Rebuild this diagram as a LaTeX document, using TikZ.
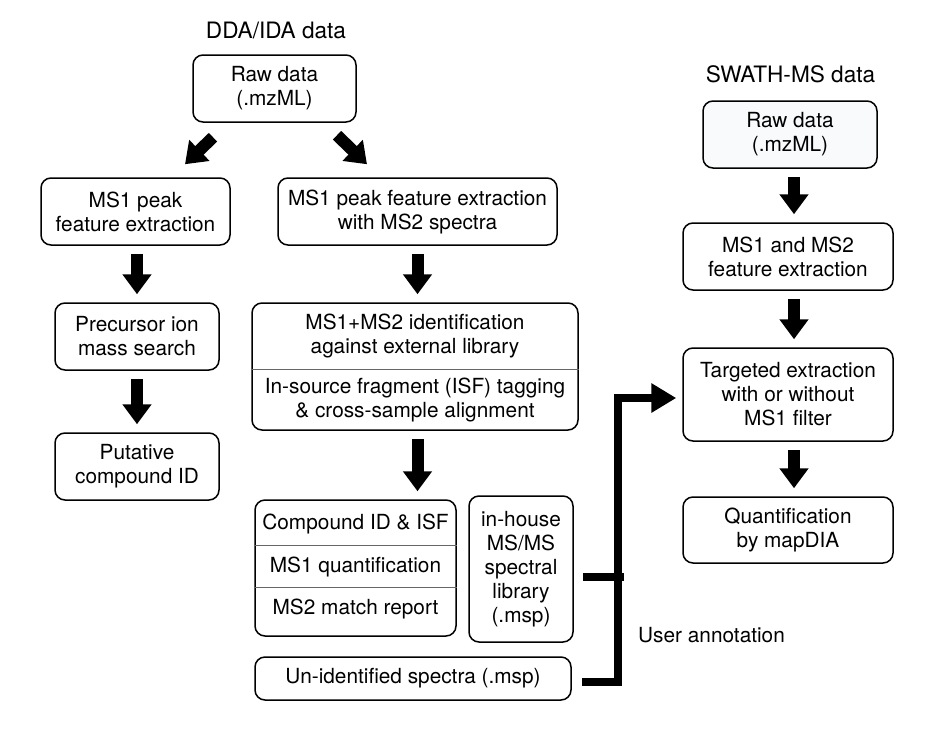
\documentclass[tikz,border=0pt]{standalone}
\usepackage{fontspec}
\setmainfont{TeX Gyre Heros}
\usetikzlibrary{arrows.meta,calc}
\definecolor{palefill}{RGB}{248,250,252}
\begin{document}
\begin{tikzpicture}[x=1pt,y=-1pt,
  txt/.style={font=\fontsize{20.8}{24}\selectfont, align=center, inner sep=0pt},
  title/.style={font=\fontsize{22.6}{26}\selectfont, inner sep=0pt},
  box/.style={txt, draw, line width=1.5pt, rounded corners=10pt},
  divider/.style={draw=black!60, line width=1pt},
  fat/.style={line width=12pt, -{Triangle[length=20pt,width=28pt]}, shorten <=8pt, shorten >=8pt},
  thickline/.style={line width=8pt, line join=miter},
  ]
\useasboundingbox[fill=white] (0,0) rectangle (928,736);

% titles
\node[title] (tdda) at (276,30) {DDA/IDA data};
\node[title] (tswath) at (790.5,74) {SWATH-MS data};

% DDA/IDA column
\node[box, minimum width=163pt, minimum height=67pt] (raw1) at (274.5,88.5) {Raw data\\(.mzML)};
\node[box, minimum width=189pt, minimum height=67pt] (ms1L) at (135.5,211.5) {MS1 peak\\feature extraction};
\node[box, minimum width=279pt, minimum height=67pt] (ms1R) at (417.5,211.5) {MS1 peak feature extraction\\with MS2 spectra};
\node[box, minimum width=164pt, minimum height=67pt] (prec) at (137,336.5) {Precursor ion\\mass search};
\node[box, minimum width=164pt, minimum height=67pt] (put) at (137,466.5) {Putative\\compound ID};

% big two-part box
\node[box, minimum width=326pt, minimum height=127pt] (big) at (415,366.5) {};
\draw[divider] ($(big.north west)!0.52!(big.south west)$) -- ($(big.north east)!0.52!(big.south east)$);
\node[txt] (bigA) at (415,336) {MS1+MS2 identification\\against external library};
\node[txt] (bigB) at (415,399.5) {In-source fragment (ISF) tagging\\\& cross-sample alignment};

% compound three-part box
\node[box, minimum width=201pt, minimum height=136pt] (comp) at (355.5,568) {};
\draw[divider] ($(comp.north west)!0.338!(comp.south west)$) -- ($(comp.north east)!0.338!(comp.south east)$);
\draw[divider] ($(comp.north west)!0.64!(comp.south west)$) -- ($(comp.north east)!0.64!(comp.south east)$);
\node[txt] (compA) at (355.5,524) {Compound ID \& ISF};
\node[txt] (compB) at (355.5,567) {MS1 quantification};
\node[txt] (compC) at (355.5,609) {MS2 match report};

\node[box, minimum width=104pt, minimum height=146pt] (inhouse) at (521,569) {in-house\\MS/MS\\spectral\\library\\(.msp)};
\node[box, minimum width=316pt, minimum height=43pt] (unid) at (413,678.5) {Un-identified spectra (.msp)};

% SWATH column
\node[box, fill=palefill, minimum width=174pt, minimum height=67pt] (raw2) at (790,134.5) {Raw data\\(.mzML)};
\node[box, minimum width=210pt, minimum height=67pt] (ms12) at (788,256.5) {MS1 and MS2\\feature extraction};
\node[box, minimum width=210pt, minimum height=93pt] (targ) at (788,394.5) {Targeted extraction\\with or without\\MS1 filter};
\node[box, minimum width=210pt, minimum height=66pt] (quant) at (788,530) {Quantification\\by mapDIA};

\node[txt, anchor=west] (user) at (638,635) {User annotation};

% arrows
\coordinate (sx) at (794,0);
\draw[fat, shorten <=0pt, shorten >=0pt] ($(raw1.south)+(-61.5,14.5)$) -- ($(ms1L.north)+(49.5,-13)$);
\draw[fat, shorten <=0pt, shorten >=0pt] ($(raw1.south)+(62.5,12.5)$) -- ($(ms1R.north)+(-50.5,-13)$);
\draw[fat] (prec.north |- ms1L.south) -- (prec.north);
\draw[fat] (prec.south) -- (put.north);
\draw[fat] (ms1R.south) -- (ms1R.south |- big.north);
\draw[fat] (ms1R.south |- big.south) -- (ms1R.south |- comp.north);
\draw[fat] (sx |- raw2.south) -- (sx |- ms12.north);
\draw[fat] (sx |- ms12.south) -- (sx |- targ.north);
\draw[fat] (sx |- targ.south) -- (sx |- quant.north);

% user annotation connector
\draw[thickline, -{Triangle[length=25pt,width=28pt]}] ($(unid.east)+(10,3.5)$) -| ($(targ.west)+(-64,3.5)$) -- ($(targ.west)+(-6,3.5)$);
\draw[thickline] ($(inhouse.east)+(9,8)$) -- ($(inhouse.east)+(50,8)$);
\end{tikzpicture}
\end{document}
